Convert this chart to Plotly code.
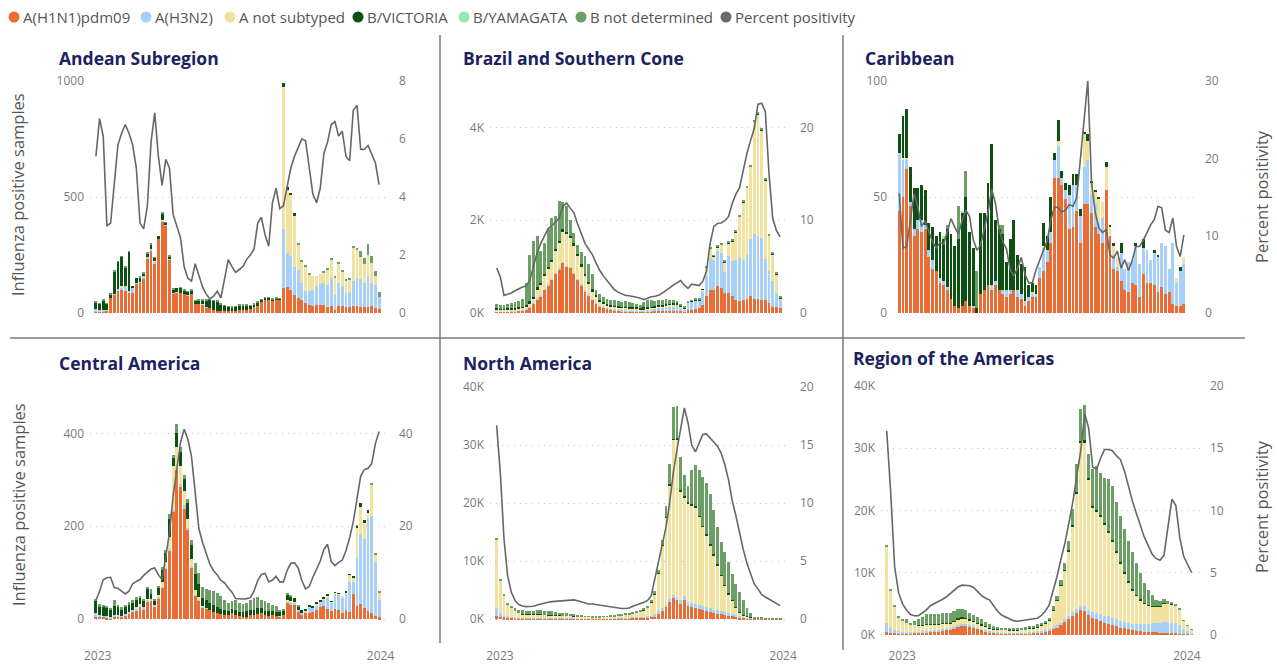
import plotly.graph_objects as go

W, H = 1277, 665
FONT = "Open Sans"

series_names = ["A(H1N1)pdm09", "A(H3N2)", "A not subtyped", "B/VICTORIA", "B/YAMAGATA", "B not determined"]
line_name = "Percent positivity"
series_colors = ["#E96D35", "#A7D0F8", "#F1E29F", "#0E4F14", "#97E9AE", "#6C9F66"]
line_color = "#676767"

panel_titles = ["Andean Subregion", "Brazil and Southern Cone", "Caribbean",
                "Central America", "North America", "Region of the Americas"]
x_tick_labels = ["2023", "2024"]
week_index = list(range(78))

# ---------------- Andean Subregion (samples) ----------------
andean_h1n1 = [8,6,8,10,65,79,95,100,95,90, 86,128,130,145,235,270,215,320,395,378,
               230,85,88,88,80,75,82,40,40,35, 25,20,12,10,8,8,8,8,10,12,
               15,15,18,25,32,48,55,58,55,58, 58,108,112,100,79,65,58,43,35,32,
               35,36,36,26,29,14,29,29,26,25, 32,29,26,26,25,32,22,17]
andean_h3n2 = [8,6,5,5,3,5,10,12,20,5, 20,3,3,15,5,5,5,3,5,2,
               5,2,2,0,0,2,0,0,0,0, 3,0,0,0,0,0,0,0,0,0,
               0,0,0,0,0,0,0,2,0,0, 0,255,147,145,120,122,72,51,60,68,
               80,90,94,96,122,65,101,86,60,65, 105,122,120,104,133,98,100,52]
andean_anot = [0,0,0,0,0,0,0,3,0,0, 0,0,0,0,0,0,3,0,3,3,
               0,0,0,0,0,0,0,0,0,3, 0,0,0,0,0,0,0,0,0,0,
               0,0,0,0,0,0,0,0,0,0, 0,612,273,263,220,110,90,108,70,58,
               43,44,46,65,80,74,84,64,54,55, 145,123,95,80,94,85,38,0]
andean_bvic = [30,28,40,25,8,95,115,127,82,168, 12,20,22,10,15,20,15,7,25,5,
               7,15,18,20,18,15,17,12,15,18, 28,38,40,40,30,23,18,16,18,22,
               19,19,13,13,14,10,10,6,5,5, 4,15,12,10,11,0,0,0,0,0,
               0,0,0,0,0,0,0,0,0,0, 0,0,0,0,0,0,0,0]
andean_byam = [0,0,0,0,0,0,0,0,0,0, 0,0,0,0,0,0,0,0,0,0,
               0,0,0,0,0,0,0,0,0,0, 0,0,0,0,0,0,0,0,0,0,
               0,0,0,0,0,0,0,0,0,0, 0,0,0,0,0,0,0,0,0,0,
               0,0,0,0,0,0,0,0,0,0, 0,0,0,0,0,0,0,0]
andean_bnd = [4,3,5,3,10,5,3,3,4,3, 0,0,3,3,4,5,2,0,7,2,
              10,2,0,3,3,2,2,3,3,2, 2,2,3,2,2,2,2,2,2,2,
              2,2,2,2,2,2,3,2,2,3, 2,0,0,0,0,5,7,7,5,0,
              0,0,4,4,6,5,6,4,4,5, 6,6,25,26,47,32,23,20]
andean_pct = [5.4,6.7,6.1,3.0,3.1,4.6,5.8,6.2,6.5,6.2, 5.8,5.0,3.1,2.9,3.7,5.9,6.9,5.4,4.4,5.3,
              5.0,3.4,3.0,2.6,1.6,1.2,1.1,1.7,1.3,0.9, 0.65,0.48,0.58,0.75,0.52,1.2,1.84,1.6,1.4,1.5,
              1.6,1.85,2.0,2.2,3.1,3.3,2.7,2.3,3.8,4.3, 3.6,3.7,4.3,5.0,5.4,5.7,6.0,5.95,5.0,4.1,
              3.8,4.3,5.5,5.9,6.5,6.6,6.1,6.27,5.4,5.25, 7.0,7.16,5.65,5.64,5.78,5.5,5.18,4.43]

# ---------------- Brazil and Southern Cone (thousands) ----------------
brazil_h1n1 = [.03,.03,.03,.03,.04,.04,.05,.06,.07,.12, .2,.3,.36,.5,.6,.72,.85,.94,1.09,1.0,
               .97,.85,.72,.6,.47,.38,.29,.2,.14,.11, .09,.07,.06,.05,.04,.04,.04,.03,.03,.03,
               .03,.04,.04,.04,.05,.05,.05,.05,.05,.05, .04,.03,.06,.07,.09,.11,.18,.36,.5,.5,
               .59,.54,.43,.43,.36,.27,.25,.29,.30,.36, .30,.30,.29,.27,.22,.14,.13,.11]
brazil_h3n2 = [.01,.01,.01,.01,.01,.01,.01,.01,.01,.01, .01,.02,.02,.02,.02,.02,.02,.02,.02,.02,
               .02,.02,.02,.02,.02,.02,.02,.02,.02,.02, .02,.02,.02,.02,.02,.02,.02,.02,.02,.02,
               .02,.03,.04,.05,.06,.07,.08,.09,.1,.11, .08,.05,.16,.18,.19,.17,.29,.43,.69,.65,
               .74,.75,.45,.79,.76,.88,.94,.86,.96,1.24, 1.41,1.35,1.33,.90,.68,.54,.30,.16]
brazil_anot = [.03,.03,.03,.03,.03,.03,.03,.04,.05,.08, .1,.18,.22,.28,.32,.36,.46,.54,.64,.68,
               .63,.58,.48,.38,.3,.22,.16,.13,.09,.08, .06,.06,.05,.05,.05,.05,.04,.04,.04,.03,
               .03,.03,.03,.03,.03,.03,.04,.04,.04,.03, .03,.02,0,0,0,0,.03,.18,.19,.07,
               .09,.18,.21,.28,.43,.59,.88,1.24,1.44,1.55, 2.41,2.63,2.32,1.69,.77,.59,.41,.05]
brazil_bvic = [.03,.02,.02,.03,.03,.03,.03,.03,.04,.04, .04,.05,.05,.05,.05,.05,.05,.05,.05,.05,
               .05,.05,.05,.05,.05,.05,.04,.03,.03,.03, .03,.03,.03,.03,.03,.03,.03,.03,.03,.03,
               .04,.04,.03,.03,.03,.03,.03,.02,.02,.02, .01,.01,.01,.01,.01,.01,.01,.01,.01,.01,
               .01,.01,.01,.01,.01,.01,.01,.01,.01,.01, .01,.01,.01,.01,.01,.01,.01,.01]
brazil_byam = [0,0,0,0,0,0,0,0,0,0, 0,0,0,0,0,0,0,0,0,0,
               0,0,0,0,0,0,0,0,0,0, 0,0,0,0,0,0,0,0,0,0,
               0,0,0,0,0,0,0,0,0,0, 0,0,0,0,0,0,0,0,0,0,
               0,0,0,0,0,0,0,0,0,0, 0,0,0,0,0,0,0,0]
brazil_bnd = [.10,.09,.08,.10,.11,.13,.14,.16,.48,1.0, 1.2,1.12,.68,.65,.82,.9,.72,.86,.6,.55,
              .33,.23,.2,.26,.38,.38,.34,.12,.12,.10, .10,.11,.11,.11,.10,.11,.10,.10,.08,.07,
              .12,.15,.13,.10,.11,.11,.10,.09,.07,.05, .02,.02,.02,.02,.02,.02,0,.02,.02,.02,
              .02,.03,.03,.03,.03,.03,.03,.03,.03,.03, .03,.03,.03,.03,.03,.03,.03,.03]
brazil_pct = [4.85,3.9,1.9,2.0,2.15,2.4,2.6,2.8,2.9,3.5, 5.0,6.5,7.5,8.4,9.1,9.4,9.75,10.2,11.5,11.85,
              11.3,10.8,9.6,8.5,7.5,6.9,6.3,5.4,4.6,4.0, 3.5,3.0,2.5,2.25,2.05,1.9,1.85,1.8,1.7,1.6,
              1.45,1.6,1.75,1.8,1.9,2.15,2.4,2.7,3.0,3.25, 3.5,3.0,2.65,3.1,3.0,2.95,3.4,4.5,7.5,9.3,
              9.65,9.7,9.95,10.4,11.8,12.8,13.5,15.3,17.2,18.6, 19.9,22.5,22.6,21.7,15.0,10.2,8.9,8.2]

# ---------------- Caribbean (samples) ----------------
carib_h1n1 = [44,50,62,46,33,36,35,36,24,19, 18,13,12,10,6,3,2,3,5,3,
              2,0,8,10,12,10,12,10,8,7, 8,10,7,6,3,5,7,7,15,18,
              22,30,58,58,55,49,36,37,44,30, 47,47,43,37,34,30,53,33,19,18,
              14,10,9,13,12,7,17,13,13,12, 9,11,8,9,4,3,3,4]
carib_h3n2 = [25,16,4,2,3,4,5,2,3,4, 0,2,2,1,0,0,0,0,0,0,
              1,0,0,0,0,2,2,0,2,3, 2,0,3,2,2,2,1,1,5,10,
              5,5,8,14,3,4,15,18,11,12, 16,19,8,10,5,11,0,0,6,2,
              12,9,13,10,17,14,11,14,10,14, 15,19,21,10,26,10,15,17]
carib_anot = [0,1,1,0,0,0,0,0,0,0, 0,0,0,0,0,0,0,0,0,0,
              0,0,0,0,0,0,0,0,0,0, 0,0,0,0,0,0,1,0,0,1,
              0,0,0,2,0,0,0,0,0,0, 14,8,5,5,10,7,10,4,4,4,
              0,0,0,0,0,0,0,0,0,0, 0,0,0,0,0,2,0,3]
carib_bvic = [8,18,21,15,18,14,15,15,12,14, 15,20,18,25,28,26,30,40,45,32,
              25,2,35,33,44,61,26,26,24,12, 22,30,15,13,15,5,4,4,0,10,
              6,15,3,9,3,3,4,5,5,3, 1,3,1,1,1,0,2,1,1,0,
              4,0,0,0,1,0,4,0,0,1, 1,0,0,0,0,0,2,0]
carib_byam = [0,0,0,0,0,0,0,0,0,0, 0,0,1,0,0,0,0,1,0,0,
              0,0,0,0,0,0,0,0,0,0, 0,0,0,0,0,0,0,0,0,0,
              0,0,0,0,0,0,0,0,0,0, 0,0,0,0,0,0,0,0,0,0,
              0,0,0,0,0,0,0,0,0,0, 0,0,0,0,0,0,0,0]
carib_bnd = [0,0,0,0,0,0,0,0,0,0, 0,0,0,2,0,0,14,0,11,0,
             0,16,0,0,0,0,0,2,4,0, 0,0,0,0,0,0,0,0,0,0,
             0,0,0,0,0,0,0,0,0,0, 0,0,0,0,0,0,0,0,0,0,
             0,0,0,0,0,0,0,0,0,0, 0,0,0,0,0,0,0,0]
carib_pct = [15.5,8.4,8.6,11.9,15.4,13.8,11.2,11.9,10.6,9.2, 8.4,9.1,8.9,10.5,12.2,11.1,10.2,12.0,13.3,12.5,
             9.5,8.1,8.8,10.9,13.0,16.0,14.2,10.9,9.2,8.3, 5.6,4.8,5.8,7.2,5.0,3.9,3.9,5.6,7.0,8.1,
             9.3,12.0,13.7,13.6,13.1,13.3,14.0,13.8,14.9,19.9, 25.0,30.0,17.0,13.0,11.0,10.4,10.8,7.5,7.1,8.0,
             5.8,6.9,5.5,6.8,8.6,8.6,9.4,10.5,11.4,12.1, 13.8,13.6,10.7,10.4,12.3,8.6,7.3,10.1]

# ---------------- Central America (samples) ----------------
central_h1n1 = [5,5,5,4,2,6,5,5,8,10, 15,18,25,20,36,40,28,45,68,108,
                148,231,321,285,238,191,112,50,40,24, 22,20,15,12,10,8,8,12,8,6,
                5,5,8,8,10,14,8,6,8,6, 5,8,35,32,30,15,10,12,14,16,
                20,25,28,22,17,22,20,12,20,15, 54,29,32,24,18,12,7,4]
central_h3n2 = [8,3,2,2,2,3,3,2,2,5, 5,5,5,5,5,3,2,2,2,2,
                3,3,5,5,8,5,3,2,2,2, 2,0,0,0,0,0,0,0,0,0,
                0,0,0,0,0,0,0,0,0,0, 2,0,3,3,5,5,3,5,12,8,
                10,10,14,25,18,33,32,35,35,65, 25,104,152,149,198,211,116,36]
central_anot = [0,0,0,0,0,0,0,0,0,0, 0,2,2,0,3,0,0,5,10,12,
                25,95,45,40,30,20,15,10,5,3, 0,0,0,0,0,0,0,0,0,0,
                0,0,0,0,0,0,0,0,0,0, 0,0,3,3,2,0,0,2,2,0,
                3,3,3,3,2,2,2,3,3,15, 10,65,58,35,12,66,17,18]
central_bvic = [25,20,20,18,16,18,17,14,15,15, 15,18,14,14,20,10,10,15,25,20,
                40,17,30,30,25,35,30,35,28,16, 16,15,15,13,12,12,10,10,12,10,
                10,12,12,12,13,10,10,12,10,10, 8,10,12,10,8,8,7,3,2,4,
                2,2,3,2,1,1,1,0,2,2, 3,3,7,5,6,0,0,0]
central_byam = [0,0,0,0,0,0,0,0,0,0, 0,0,0,0,0,0,0,0,0,0,
                0,0,0,0,0,0,0,0,0,0, 0,0,0,0,0,0,0,0,0,0,
                0,0,0,0,0,0,0,0,0,0, 0,0,0,0,0,0,0,0,0,0,
                0,0,0,0,0,0,0,0,0,0, 0,0,0,0,0,0,0,0]
central_bnd = [5,4,3,4,2,13,5,4,5,6, 5,4,4,4,6,12,3,3,7,6,
               11,7,20,11,9,8,10,23,25,25, 25,27,30,30,28,20,17,16,20,19,
               17,18,20,25,25,18,20,17,12,12, 5,2,2,2,0,2,0,0,0,0,
               0,0,0,0,0,0,0,0,0,0, 0,1,0,0,0,3,2,1]
central_pct = [4.0,6.0,8.5,8.9,9.0,6.8,6.6,6.0,5.4,6.0, 7.6,8.1,8.5,9.4,10.2,10.8,11.0,9.5,8.5,13.3,
               18.5,26.5,32.5,38.0,40.9,38.8,35.0,27.5,19.5,16.5, 14.0,11.8,10.4,9.5,8.3,7.8,6.7,5.8,4.4,4.3,
               4.3,4.4,4.6,6.0,8.3,9.6,9.8,8.0,8.4,9.2, 8.0,8.0,10.5,12.0,12.1,11.0,8.3,6.5,7.0,9.0,
               10.8,12.5,15.0,16.1,12.3,11.5,12.2,12.7,14.7,17.5, 21.0,26.0,30.8,32.2,32.5,33.5,37.8,40.4]

# ---------------- North America (thousands) ----------------
na_h1n1 = [.6,.4,.3,.25,.2,.15,.12,.1,.1,.1, .1,.1,.1,.1,.1,.1,.1,.1,.1,.1,
           .1,.08,.08,.08,.07,.07,.07,.07,.07,.08, .08,.09,.1,.12,.13,.15,.17,.2,.22,.25,
           .28,.3,.35,.5,.9,1.4,2.0,2.9,3.6,3.2, 2.6,3.2,2.2,2.0,1.9,1.8,1.6,1.4,1.2,1.0,
           .9,.8,.7,.6,.5,.4,.3,.2,.15,.1, .05,.03,.03,.02,.02,.02,.02,.02]
na_h3n2 = [1.3,.6,.4,.3,.2,.15,.12,.1,.1,.1, .1,.1,.1,.1,.1,.1,.1,.1,.08,.08,
           .07,.06,.05,.05,.04,.04,.03,.03,.03,.03, .03,.04,.04,.05,.05,.06,.07,.08,.1,.1,
           .12,.15,.2,.3,.4,.5,.5,.6,.6,.6, .6,.7,.7,.7,.7,.7,.7,.7,.7,.6,
           .6,.5,.5,.4,.4,.3,.3,.15,.1,.08, .04,.03,.03,.02,.02,.02,.02,.02]
na_anot = [11.8,5.6,3.3,2.0,1.5,1.0,.8,.65,.6,.55, .55,.55,.55,.5,.45,.45,.4,.4,.4,.4,
           .4,.36,.32,.3,.27,.24,.22,.22,.22,.26, .28,.32,.36,.4,.45,.5,.58,.62,.73,.9,
           1.15,1.45,2.35,3.5,6.6,10.7,15.0,19.5,26.7,27.2, 18.8,17.1,17.1,16.9,16.7,15.1,13.6,12.3,10.8,9.4,
           7.7,6.2,4.6,3.3,2.3,1.3,.55,.25,.15,.12, .06,.04,.04,.04,.04,.04,.03,.03]
na_bvic = [.05,0,0,0,0,0,0,.02,.03,.03, .03,.03,.03,.03,.02,.02,.02,.02,.02,.02,
           .02,.02,.01,.01,.01,.01,.01,.01,.01,.01, .01,.01,.01,.01,.01,.01,.01,.01,.01,.02,
           .02,.02,.02,.03,.05,.1,.1,.2,.2,.2, .2,.2,.2,.2,.2,.2,.2,.2,.2,.2,
           .2,.15,.15,.1,.1,.1,.05,.05,.05,.02, 0,0,0,0,0,0,0,0]
na_byam = [0,0,0,0,0,0,0,0,0,0, 0,0,0,0,0,0,0,0,0,0,
           0,0,0,0,0,0,0,0,0,0, 0,0,0,0,0,0,0,0,0,0,
           0,0,0,0,0,0,0,0,0,0, 0,0,0,0,0,0,0,0,0,0,
           0,0,0,0,0,0,0,0,0,0, 0,0,0,0,0,0,0,0]
na_bnd = [.1,.2,.2,.25,.3,.6,.56,.6,.62,.67, .67,.77,.77,.72,.63,.63,.58,.48,.4,.4,
          .28,.23,.19,.16,.11,.09,.07,.07,.07,.07, .07,.09,.09,.12,.13,.15,.17,.19,.24,.28,
          .33,.38,.38,.47,.45,1.0,1.8,3.6,5.5,5.6, 5.7,3.7,2.7,5.9,7.0,7.9,8.4,8.8,8.7,7.6,
          6.5,5.65,5.55,5.4,4.5,4.0,3.4,2.55,1.45,.68, .25,.1,.08,.07,.07,.07,.05,.03]
na_pct = [16.7,12.6,6.9,3.7,2.3,1.6,1.25,1.12,1.07,1.08, 1.1,1.2,1.3,1.4,1.45,1.5,1.53,1.53,1.55,1.6,
          1.63,1.65,1.58,1.5,1.4,1.3,1.3,1.25,1.17,1.1, 1.07,1.0,0.95,0.92,0.9,0.91,0.95,1.1,1.2,1.3,
          1.45,1.6,2.0,3.5,5.0,6.5,7.9,10.0,12.6,14.6, 16.5,18.2,16.9,15.0,14.4,15.1,15.9,15.95,15.6,15.2,
          14.9,14.3,13.3,12.0,10.2,8.9,7.3,6.0,4.8,3.8, 3.0,2.6,2.1,1.9,1.7,1.5,1.3,1.15]

# ---------------- Region of the Americas (thousands) ----------------
region_h1n1 = [.54,.35,.3,.3,.3,.3,.3,.35,.35,.4, .45,.5,.55,.6,.7,.8,.9,1.1,1.4,1.6,
               1.55,1.4,1.2,1.0,.8,.6,.45,.35,.3,.25, .25,.2,.2,.2,.22,.25,.3,.32,.38,.45,
               .55,.7,.9,1.2,1.6,2.1,2.6,3.1,3.6,4.0, 3.9,3.2,2.8,2.6,2.3,2.0,1.8,1.6,1.4,1.2,
               1.05,.9,.8,.7,.6,.55,.5,.45,.4,.35, .3,.3,.28,.25,.22,.15,.12,.08]
region_h3n2 = [1.36,.75,.45,.3,.25,.2,.2,.2,.2,.2, .2,.2,.2,.2,.2,.2,.2,.2,.2,.2,
               .2,.2,.2,.15,.15,.15,.12,.1,.1,.1, .1,.1,.1,.1,.12,.12,.15,.15,.2,.22,
               .25,.3,.35,.4,.4,.5,.5,.55,.6,.6, .7,.8,.9,1.0,1.0,1.1,1.2,1.2,1.1,1.1,
               1.0,1.0,1.0,1.0,1.1,1.2,1.3,1.4,1.5,1.6, 1.8,1.8,1.7,1.6,1.4,.8,.5,.3]
region_anot = [12.3,6.0,3.8,2.15,1.65,1.45,1.1,1.0,1.0,1.0, 1.0,.95,.95,.9,.9,.85,.8,.8,.9,.9,
               .85,.8,.75,.7,.65,.6,.5,.45,.45,.45, .45,.45,.45,.45,.5,.5,.55,.6,.7,.85,
               1.0,1.3,2.7,3.9,6.0,7.8,10.3,13.8,18.5,26.3, 26.4,21.0,16.8,16.2,15.7,14.7,13.5,12.2,10.7,9.2,
               7.75,6.6,5.4,4.6,3.9,3.25,2.9,2.75,2.7,2.65, 3.0,2.9,2.92,2.85,2.48,1.35,.88,.47]
region_bvic = [.02,0,0,0,0,0,0,0,.05,.05, .1,.1,.1,.1,.1,.1,.1,.1,.15,.15,
               .15,.15,.15,.1,.1,.1,.08,.08,.05,.05, .05,.05,.05,.05,.06,.06,.07,.08,.08,.08,
               .1,.1,.1,.1,.1,.1,.2,.25,.3,.3, .3,.25,.25,.25,.25,.25,.25,.25,.25,.25,
               .25,.15,.15,.15,.15,.15,.15,.1,.1,.1, .1,.05,.05,.05,.05,.05,.05,.02]
region_byam = [0,0,0,0,0,0,0,0,0,0, 0,0,0,0,0,0,0,0,0,0,
               0,0,0,0,0,0,0,0,0,0, 0,0,0,0,0,0,0,0,0,0,
               0,0,0,0,0,0,0,0,0,0, 0,0,0,0,0,0,0,0,0,0,
               0,0,0,0,0,0,0,0,0,0, 0,0,0,0,0,0,0,0]
region_bnd = [.08,.2,.25,.3,.4,.55,.4,.65,1.0,1.25, 1.55,1.65,1.65,1.6,1.6,1.55,1.6,1.6,1.45,1.4,
              1.25,1.05,.9,.95,.8,.65,.55,.42,.35,.35, .35,.35,.35,.3,.3,.32,.33,.35,.34,.4,
              .4,.4,.55,.6,.8,1.1,1.5,2.5,4.5,5.1, 5.7,3.85,5.95,7.15,6.85,7.25,8.25,8.75,7.85,7.35,
              6.95,6.45,6.05,5.15,4.25,3.25,2.45,1.8,1.0,.8, .6,.45,.35,.25,.15,.05,.05,.03]
region_pct = [16.4,11.5,5.5,3.4,2.5,2.0,1.65,1.55,1.55,1.8, 2.0,2.35,2.5,2.7,2.85,3.05,3.3,3.55,3.85,4.0,
              4.0,3.95,3.8,3.5,3.15,2.95,2.8,2.35,1.9,1.6, 1.45,1.3,1.15,1.1,1.15,1.22,1.25,1.27,1.35,1.55,
              1.9,2.4,3.5,4.7,6.1,7.4,9.0,10.7,12.8,14.8, 17.8,16.6,13.5,13.3,14.2,14.9,14.9,14.8,14.4,14.1,
              13.2,11.9,10.8,9.8,8.8,7.9,7.2,6.5,6.15,6.0, 6.4,8.5,10.9,10.4,7.8,6.3,5.6,5.0]


def px_x(x):
    return x / W


def px_y(y):
    return 1 - y / H


panels = [
    dict(title=panel_titles[0], title_px=(57, 58),
         series=[andean_h1n1, andean_h3n2, andean_anot, andean_bvic, andean_byam, andean_bnd], pct=andean_pct,
         xpx=(90, 389), ypx=(81, 313), xrange=[-1.6, 79.7],
         yrange=[0, 1000], ytv=[0, 500, 1000], ytt=["0", "500", "1000"],
         y2range=[0, 8], y2tv=[0, 2, 4, 6, 8], xtv=None),
    dict(title=panel_titles[1], title_px=(461, 58),
         series=[brazil_h1n1, brazil_h3n2, brazil_anot, brazil_bvic, brazil_byam, brazil_bnd], pct=brazil_pct,
         xpx=(490, 790), ypx=(81, 313), xrange=[-1.8, 79.7],
         yrange=[0, 5], ytv=[0, 2, 4], ytt=["0K", "2K", "4K"],
         y2range=[0, 25], y2tv=[0, 10, 20], xtv=None),
    dict(title=panel_titles[2], title_px=(863, 58),
         series=[carib_h1n1, carib_h3n2, carib_anot, carib_bvic, carib_byam, carib_bnd], pct=carib_pct,
         xpx=(893, 1195), ypx=(81, 313), xrange=[-1.7, 80.0],
         yrange=[0, 100], ytv=[0, 50, 100], ytt=["0", "50", "100"],
         y2range=[0, 30], y2tv=[0, 10, 20, 30], xtv=None),
    dict(title=panel_titles[3], title_px=(57, 363),
         series=[central_h1n1, central_h3n2, central_anot, central_bvic, central_byam, central_bnd], pct=central_pct,
         xpx=(90, 389), ypx=(387, 645), xrange=[-1.6, 79.7],
         yrange=[-56, 500], ytv=[0, 200, 400], ytt=["0", "200", "400"],
         y2range=[-5.6, 50], y2tv=[0, 20, 40], xtv=[0.5, 77.4]),
    dict(title=panel_titles[4], title_px=(461, 363),
         series=[na_h1n1, na_h3n2, na_anot, na_bvic, na_byam, na_bnd], pct=na_pct,
         xpx=(490, 790), ypx=(387, 645), xrange=[-1.8, 79.7],
         yrange=[-4.48, 40], ytv=[0, 10, 20, 30, 40], ytt=["0K", "10K", "20K", "30K", "40K"],
         y2range=[-2.24, 20], y2tv=[0, 5, 10, 15, 20], xtv=[0.9, 77.8]),
    dict(title=panel_titles[5], title_px=(851, 358),
         series=[region_h1n1, region_h3n2, region_anot, region_bvic, region_byam, region_bnd], pct=region_pct,
         xpx=(881, 1200), ypx=(386, 645), xrange=[-1.44, 79.1],
         yrange=[-1.61, 40], ytv=[0, 10, 20, 30, 40], ytt=["0K", "10K", "20K", "30K", "40K"],
         y2range=[-0.805, 20], y2tv=[0, 5, 10, 15, 20], xtv=[3.9, 75.8]),
]

fig = go.Figure()
layout = dict(
    width=W, height=H, autosize=False,
    margin=dict(l=0, r=0, t=0, b=0, pad=0, autoexpand=False),
    paper_bgcolor="white", plot_bgcolor="white",
    barmode="stack", bargap=0.22,
    showlegend=False,
    font=dict(family=FONT, color="#666666"),
)

tickfont = dict(family=FONT, size=12, color="#7A7A7A")
annotations = []
shapes = []

for i, p in enumerate(panels, start=1):
    xname = "x" if i == 1 else f"x{i}"
    yl = 2 * i - 1
    yr = 2 * i
    ylname = "y" if yl == 1 else f"y{yl}"
    yrname = f"y{yr}"
    xkey = "xaxis" if i == 1 else f"xaxis{i}"
    ylkey = "yaxis" if yl == 1 else f"yaxis{yl}"
    yrkey = f"yaxis{yr}"

    for name, vals, col in zip(series_names, p["series"], series_colors):
        fig.add_trace(go.Bar(x=week_index, y=vals, name=name, marker=dict(color=col, line=dict(width=0)),
                             xaxis=xname, yaxis=ylname, showlegend=False))
    fig.add_trace(go.Scatter(x=week_index, y=p["pct"], name=line_name, mode="lines",
                             line=dict(color=line_color, width=1.6),
                             xaxis=xname, yaxis=yrname, showlegend=False))

    xa = dict(domain=[px_x(p["xpx"][0]), px_x(p["xpx"][1])], range=p["xrange"], anchor=ylname,
              showgrid=False, zeroline=False, showline=False, ticks="", fixedrange=True, automargin=False)
    if p["xtv"] is None:
        xa.update(showticklabels=False)
    else:
        xa.update(tickmode="array", tickvals=p["xtv"], ticktext=x_tick_labels, tickfont=tickfont,
                  ticklabelstandoff=2)
    layout[xkey] = xa
    layout[ylkey] = dict(domain=[px_y(p["ypx"][1]), px_y(p["ypx"][0])], range=p["yrange"], anchor=xname,
                         tickmode="array", tickvals=p["ytv"], ticktext=p["ytt"], tickfont=tickfont,
                         showgrid=True, gridcolor="#C4C4C4", griddash="1px,5px", gridwidth=1,
                         zeroline=False, showline=False, ticks="", ticklabelstandoff=5, automargin=False,
                         fixedrange=True)
    layout[yrkey] = dict(overlaying=ylname, side="right", anchor=xname, range=p["y2range"],
                         tickmode="array", tickvals=p["y2tv"], tickfont=tickfont,
                         showgrid=False, zeroline=False, showline=False, ticks="", ticklabelstandoff=9,
                         automargin=False, fixedrange=True)

    annotations.append(dict(text=f"<b>{p['title']}</b>", xref="paper", yref="paper",
                            x=px_x(p["title_px"][0]), y=px_y(p["title_px"][1]),
                            xanchor="left", yanchor="middle", showarrow=False,
                            font=dict(family=FONT, size=17.5, color="#1C2160")))

# axis titles
for yc in (195, 505):
    annotations.append(dict(text="Influenza positive samples", xref="paper", yref="paper",
                            x=px_x(18), y=px_y(yc), textangle=-90, showarrow=False,
                            xanchor="center", yanchor="middle",
                            font=dict(family=FONT, size=16.5, color="#555555")))
for yc in (197, 507):
    annotations.append(dict(text="Percent positivity", xref="paper", yref="paper",
                            x=px_x(1261), y=px_y(yc), textangle=-90, showarrow=False,
                            xanchor="center", yanchor="middle",
                            font=dict(family=FONT, size=16.5, color="#555555")))

# legend (dots + labels)
legend_labels = series_names + [line_name]
legend_colors = series_colors + ["#6A6A6A"]
legend_dot_x = [14, 146, 230, 358, 464, 581, 726]
for lab, col, dx in zip(legend_labels, legend_colors, legend_dot_x):
    r = 5.5
    shapes.append(dict(type="circle", xref="paper", yref="paper",
                       x0=px_x(dx - r), x1=px_x(dx + r), y0=px_y(17 + r), y1=px_y(17 - r),
                       fillcolor=col, line=dict(width=0)))
    annotations.append(dict(text=lab, xref="paper", yref="paper", x=px_x(dx + 7), y=px_y(17),
                            xanchor="left", yanchor="middle", showarrow=False,
                            font=dict(family=FONT, size=15, color="#555555")))

# separator lines between panels
sep_color = "#7A7A7A"
shapes.append(dict(type="line", xref="paper", yref="paper", x0=px_x(440), x1=px_x(440),
                   y0=px_y(35), y1=px_y(643), line=dict(color=sep_color, width=1.5)))
shapes.append(dict(type="line", xref="paper", yref="paper", x0=px_x(843), x1=px_x(843),
                   y0=px_y(35), y1=px_y(650), line=dict(color=sep_color, width=1.5)))
shapes.append(dict(type="line", xref="paper", yref="paper", x0=px_x(10), x1=px_x(1245),
                   y0=px_y(338), y1=px_y(338), line=dict(color=sep_color, width=1.5)))

layout["annotations"] = annotations
layout["shapes"] = shapes
fig.update_layout(**layout)

# remove the default page margin so the figure sits at the window's top-left corner
fig.write_html("out.html",
               config={"displayModeBar": False},
               post_script="document.body.style.margin='0px';document.body.style.overflow='hidden';")
